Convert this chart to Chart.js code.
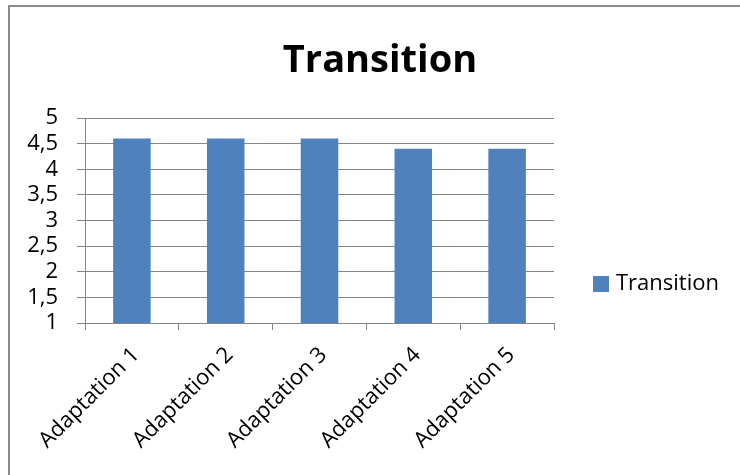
<!DOCTYPE html>
<html>
<head>
<meta charset="utf-8">
<script src="https://cdn.jsdelivr.net/npm/chart.js@4/dist/chart.umd.min.js"></script>
<style>
  body { margin: 0; background: #fff; overflow: hidden; }
</style>
</head>
<body>
<canvas id="chart" width="740" height="475"></canvas>
<script>
// data
var categories = ["Adaptation 1", "Adaptation 2", "Adaptation 3", "Adaptation 4", "Adaptation 5"];
var seriesName = "Transition";
var values = [4.6, 4.6, 4.6, 4.4, 4.4];
var chartTitle = "Transition";
var yMin = 1, yMax = 5, yStep = 0.5;

var FONT = "'Open Sans'";
var barColor = "#4f81bd";
var gridColor = "#858585";

// frame, title and legend drawn by hand so they sit where Excel put them
var excelBits = {
  id: "excelBits",
  beforeDraw: function(chart) {
    var ctx = chart.ctx;
    ctx.save();
    ctx.fillStyle = "#fff";
    ctx.fillRect(0, 0, chart.width, chart.height);
    // outer chart border (only left and top are inside the shot)
    ctx.strokeStyle = "#8c8c8c";
    ctx.lineWidth = 2;
    ctx.beginPath();
    ctx.moveTo(9, chart.height + 5);
    ctx.lineTo(9, 6);
    ctx.lineTo(chart.width + 5, 6);
    ctx.stroke();
    ctx.restore();
  },
  afterDraw: function(chart) {
    var ctx = chart.ctx;
    ctx.save();
    ctx.fillStyle = "#000";
    ctx.font = "bold 38px " + FONT;
    ctx.textAlign = "center";
    ctx.textBaseline = "alphabetic";
    ctx.fillText(chartTitle, 380, 72);

    var ds = chart.data.datasets[0];
    ctx.fillStyle = ds.backgroundColor;
    ctx.fillRect(593, 276, 16, 16);
    ctx.fillStyle = "#000";
    ctx.font = "22px " + FONT;
    ctx.textAlign = "left";
    ctx.textBaseline = "middle";
    ctx.fillText(ds.label, 616, 284);
    ctx.restore();
  }
};

var ctx = document.getElementById("chart").getContext("2d");
var myChart = new Chart(ctx, {
  type: "bar",
  data: {
    labels: categories,
    datasets: [{
      label: seriesName,
      data: values,
      backgroundColor: barColor,
      borderWidth: 0,
      categoryPercentage: 1,
      barPercentage: 0.4
    }]
  },
  plugins: [excelBits],
  options: {
    responsive: false,
    animation: false,
    layout: { padding: { top: 118, right: 186, left: 0, bottom: 0 } },
    plugins: {
      legend: { display: false },
      title: { display: false },
      tooltip: { enabled: false }
    },
    scales: {
      x: {
        offset: true,
        grid: { drawOnChartArea: false, drawTicks: true, tickLength: 7, color: gridColor, offset: true },
        border: { color: gridColor, width: 1 },
        ticks: {
          autoSkip: false, minRotation: 45, maxRotation: 45,
          padding: 12, labelOffset: 4,
          color: "#000", font: { family: FONT, size: 22 }
        },
        afterFit: function(scale) { scale.height = 152; }
      },
      y: {
        min: yMin, max: yMax,
        grid: { color: gridColor, tickLength: 8, lineWidth: 1 },
        border: { color: gridColor, width: 1 },
        ticks: {
          stepSize: yStep, autoSkip: false, padding: 19, color: "#000",
          font: { family: FONT, size: 22 },
          callback: function(v) { return String(v).replace(".", ","); }
        },
        afterFit: function(scale) { scale.width = 85; }
      }
    }
  }
});
</script>
</body>
</html>
